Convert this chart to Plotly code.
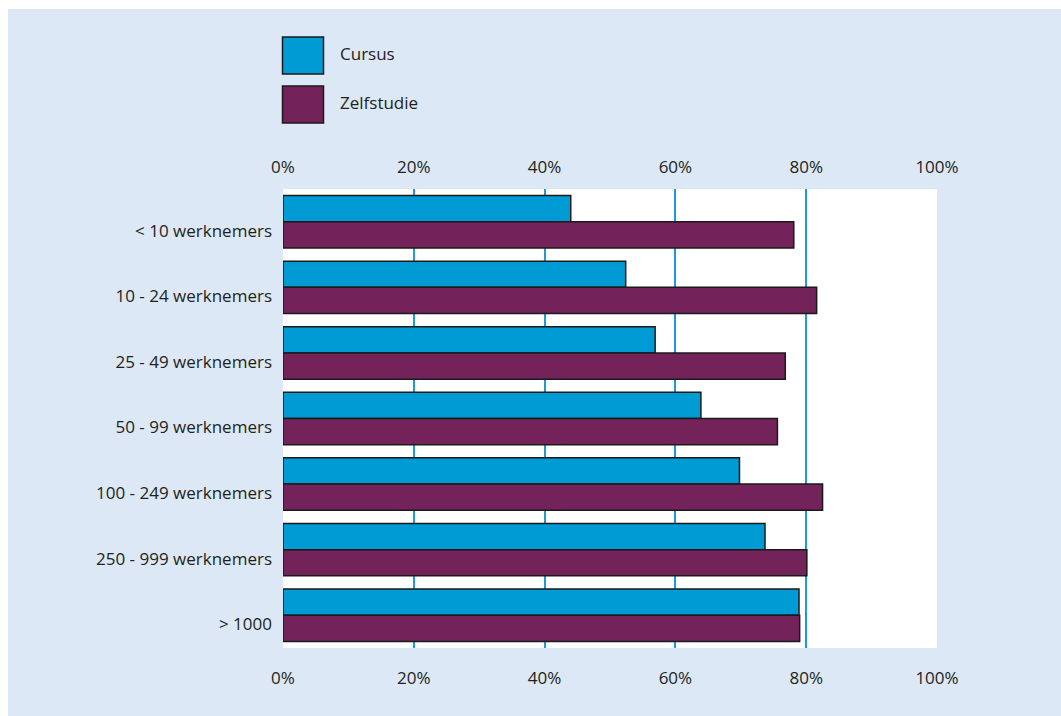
import plotly.graph_objects as go

# Share of companies per size class, by type of training (%)
categories = [
    "< 10 werknemers",
    "10 - 24 werknemers",
    "25 - 49 werknemers",
    "50 - 99 werknemers",
    "100 - 249 werknemers",
    "250 - 999 werknemers",
    "> 1000",
]
cursus = [44.0, 52.4, 56.9, 63.9, 69.8, 73.7, 78.9]
zelfstudie = [78.1, 81.6, 76.8, 75.6, 82.5, 80.1, 79.0]

series_names = ["Cursus", "Zelfstudie"]
series_colors = ["#009AD5", "#74235A"]

W, H = 1061, 716
ML, MR, MT, MB = 283, 124, 189, 68
PW, PH = W - ML - MR, H - MT - MB

PANEL_BG = "#DCE8F5"
GRID = "#1E9BD7"
TEXT = "#231F20"
FONT = "Open Sans"


def fx(px):
    return (px - ML) / PW


def fy(py):
    return (H - MB - py) / PH


fig = go.Figure()
for name, vals, col in zip(series_names, [cursus, zelfstudie], series_colors):
    fig.add_trace(go.Bar(
        y=categories, x=vals, name=name, orientation="h",
        marker=dict(color=col, line=dict(color="#1A1A1A", width=1.5)),
        showlegend=False,
    ))

# carrier for the mirrored bottom axis
fig.add_trace(go.Scatter(
    x=[0, 100], y=[categories[0], categories[0]], xaxis="x2",
    mode="none", showlegend=False, hoverinfo="skip",
))

axis_font = dict(family=FONT, size=17, color=TEXT)

fig.update_layout(
    width=W, height=H,
    margin=dict(l=ML, r=MR, t=MT, b=MB, pad=0),
    paper_bgcolor=PANEL_BG,
    plot_bgcolor="white",
    barmode="group",
    bargap=0.2,
    bargroupgap=0,
    xaxis=dict(
        side="top", range=[0, 100], dtick=20, ticksuffix="%",
        showgrid=True, gridcolor=GRID, gridwidth=1.5,
        zeroline=False, showline=False, ticks="",
        tickfont=axis_font, fixedrange=True, ticklabelstandoff=12,
    ),
    xaxis2=dict(
        overlaying="x", side="bottom", anchor="y", matches="x",
        range=[0, 100], dtick=20, ticksuffix="%",
        showgrid=False, zeroline=False, showline=False, ticks="",
        tickfont=axis_font, ticklabelstandoff=18,
    ),
    yaxis=dict(
        autorange="reversed", showgrid=False, zeroline=False,
        showline=False, ticks="", tickfont=axis_font,
        ticklabelstandoff=10, ticklabelshift=-9,
    ),
    showlegend=False,
)

# white page border around the tinted panel
fig.add_shape(type="rect", xref="paper", yref="paper",
              x0=fx(0), x1=fx(W), y0=fy(9), y1=fy(0),
              fillcolor="white", line_width=0, layer="above")
fig.add_shape(type="rect", xref="paper", yref="paper",
              x0=fx(0), x1=fx(8), y0=fy(H), y1=fy(0),
              fillcolor="white", line_width=0, layer="above")

# legend: large swatches with labels
for i, (name, col) in enumerate(zip(series_names, series_colors)):
    top = 37 + i * 49
    fig.add_shape(type="rect", xref="paper", yref="paper",
                  x0=fx(282.5), x1=fx(323.5), y0=fy(top + 37), y1=fy(top),
                  fillcolor=col, line=dict(color="#1A1A1A", width=1.5))
    fig.add_annotation(x=fx(338), y=fy(top + 17), xref="paper", yref="paper",
                       text=name, showarrow=False, xanchor="left",
                       yanchor="middle", font=axis_font)

fig.write_html("out.html")
